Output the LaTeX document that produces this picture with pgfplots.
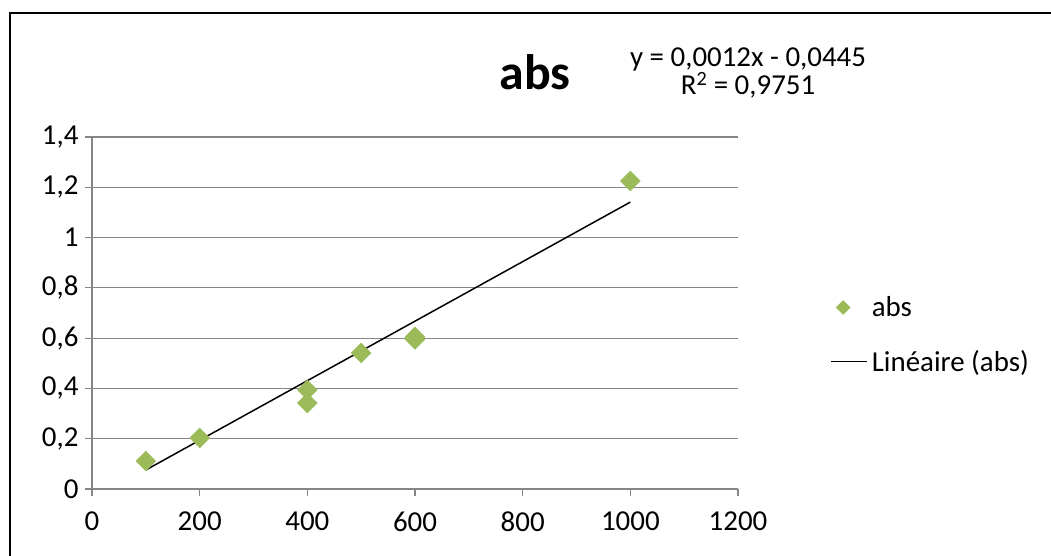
\documentclass[border=0pt]{standalone}
\usepackage{fontspec}
\setmainfont{Carlito}
\usepackage{pgfplots}
\pgfplotsset{compat=1.18}
\definecolor{exgreen}{HTML}{9BBB59}
\definecolor{gridgray}{HTML}{868686}
\pgfplotsset{
  mylinelegend/.style={legend image code/.code={\draw[black, line width=1.5bp] (0bp,0bp) -- (36bp,0bp);}},
  mymarklegend/.style={legend image code/.code={\fill[exgreen] (12bp,7bp) -- (19bp,0bp) -- (12bp,-7bp) -- (5bp,0bp) -- cycle;}},
}
\begin{document}
\begin{tikzpicture}[x=1bp,y=1bp]
\path[use as bounding box] (0,0) rectangle (1051,556);
\fill[white] (0,0) rectangle (1051,556);
\draw[line width=2.5bp] (10,0) -- (10,543) -- (1051,543);
\begin{axis}[at={(92bp,67bp)}, anchor=south west, scale only axis,
  width=646bp, height=352bp,
  xmin=0, xmax=1200, ymin=0, ymax=1.4,
  xtick={0,200,400,600,800,1000,1200},
  ytick={0,0.2,0.4,0.6,0.8,1,1.2,1.4},
  axis x line=bottom, axis y line=left,
  axis line style={-, gridgray, line width=1.2bp},
  tick align=outside, major tick length=7bp,
  tick style={gridgray, line width=1.2bp},
  ymajorgrids, grid style={gridgray, line width=1.2bp},
  /pgf/number format/use comma,
  /pgf/number format/1000 sep={},
  /pgf/number format/assume math mode=true,
  yticklabel style={/pgf/number format/fixed, /pgf/number format/precision=1, xshift=-3bp},
  xticklabel style={yshift=-12bp},
  ticklabel style={font=\fontsize{29}{34}\selectfont, text=black},
  legend style={at={(1.138,0.438)}, anchor=west, draw=none, fill=none,
    font=\fontsize{29}{34}\selectfont, row sep=28bp, cells={anchor=west},
    nodes={inner xsep=4bp}},
  legend cell align=left,
  clip=false,
]
\addlegendimage{mymarklegend}
\addlegendentry{abs}
\addlegendimage{mylinelegend}
\addlegendentry{Linéaire (abs)}
\addplot[forget plot, only marks, mark=square*, mark size=7bp,
  mark options={rotate=45, fill=exgreen, draw=exgreen}] coordinates {
  (100,0.111) (200,0.203) (400,0.394) (400,0.342) (500,0.541) (600,0.605) (600,0.595) (1000,1.225)};
\addplot[forget plot, black, line width=1.5bp, mark=none] coordinates {(100,0.0756) (1000,1.141)};
\end{axis}
\node[font=\bfseries\fontsize{50}{60}\selectfont] at (535,484) {abs};
\node[font=\fontsize{29}{25}\selectfont, inner sep=0pt, align=center] at (748,483)
  {y = 0,0012x - 0,0445\\R\textsuperscript{2} = 0,9751};
\end{tikzpicture}
\end{document}
